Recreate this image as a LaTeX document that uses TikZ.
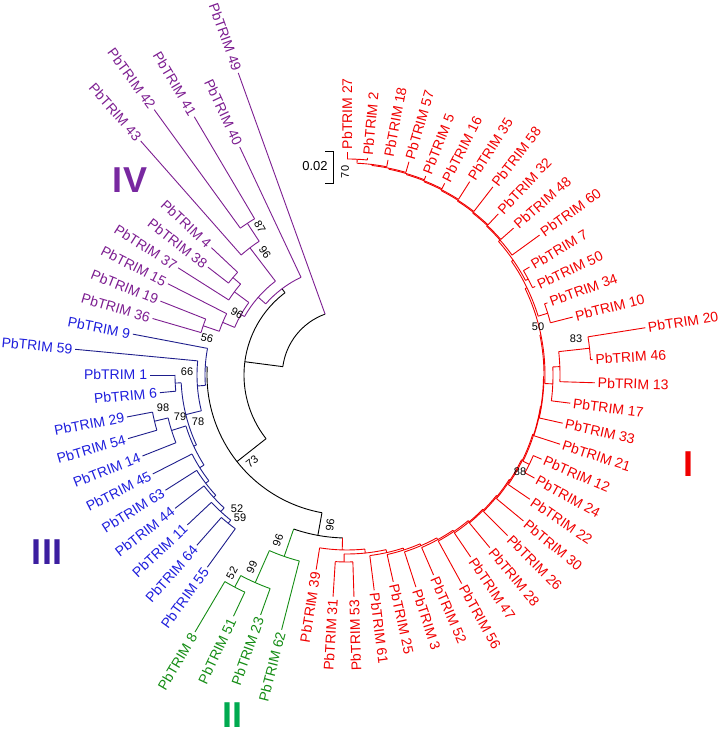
\documentclass[tikz,border=0pt]{standalone}
\usepackage{fontspec}
\setmainfont{Liberation Sans}
\definecolor{cI}{RGB}{240,0,0}
\definecolor{cII}{RGB}{20,140,20}
\definecolor{cIII}{RGB}{30,30,140}
\definecolor{tIII}{RGB}{30,30,220}
\definecolor{cIV}{RGB}{125,30,145}
\definecolor{kII}{RGB}{0,170,80}
\definecolor{kIII}{RGB}{60,30,160}
\definecolor{kIV}{RGB}{120,40,160}
\newcommand\tarc[4]{\draw[#1] (#3:#2pt) arc[start angle=#3,end angle=#4,radius=#2pt];}
\newcommand\trad[4]{\draw[#1] (#2:#3pt) -- (#2:#4pt);}
\newcommand\leafR[7]{\draw[#1] (#3:#4pt) -- (#3:#5pt) node[lab,text=#2,rotate=#3,anchor=west] (#6) {PbTRIM #7};}
\newcommand\leafL[7]{\draw[#1] (#3:#4pt) -- (#3:#5pt) node[lab,text=#2,rotate=#3-180,anchor=east] (#6) {PbTRIM #7};}
\begin{document}
\begin{tikzpicture}[x=1pt,y=1pt,line width=0.9pt,
  lab/.style={font=\fontsize{14pt}{14pt}\selectfont,inner sep=0pt,inner xsep=2.5pt},
  bs/.style={font=\fontsize{11pt}{11pt}\selectfont,inner sep=0pt,text=black},
  clade/.style={font=\fontsize{36pt}{36pt}\selectfont\bfseries,inner sep=0pt}]
\useasboundingbox (0,0) rectangle (721,741);
\begin{scope}[shift={(347,366)}]
% backbone
\tarc{black}{64.7}{109.8}{172.6}
\trad{black}{172.6}{64.7}{103}
\tarc{black}{103}{127.0}{218.2}
\trad{black}{127.0}{103}{108}
\trad{black}{218.2}{103}{140}
\tarc{black}{140}{176.7}{259.7}
\trad{black}{259.7}{140}{163}
\tarc{black}{163}{250.9}{268.43}
% clade IV
\leafL{cIV}{cIV}{109.8}{64.7}{321}{l49}{49}
\tarc{cIV}{108}{115.2}{138.8}
\leafL{cIV}{cIV}{115.2}{108}{252}{l40}{40}
\trad{cIV}{138.8}{108}{118}
\tarc{cIV}{118}{127.35}{150.3}
\trad{cIV}{127.35}{118}{160}
\tarc{cIV}{160}{123.3}{131.4}
\leafL{cIV}{cIV}{131.4}{160}{312}{l43}{43}
\trad{cIV}{123.3}{160}{181.5}
\tarc{cIV}{181.5}{120.6}{126}
\leafL{cIV}{cIV}{126}{181.5}{328}{l42}{42}
\leafL{cIV}{cIV}{120.6}{181.5}{300}{l41}{41}
\trad{cIV}{150.3}{118}{122}
\tarc{cIV}{122}{143.55}{157.05}
\trad{cIV}{143.55}{122}{140}
\tarc{cIV}{140}{139.5}{147.6}
\trad{cIV}{139.5}{140}{150}
\tarc{cIV}{150}{136.8}{142.2}
\leafL{cIV}{cIV}{136.8}{150}{186}{l4}{4}
\leafL{cIV}{cIV}{142.2}{150}{176}{l38}{38}
\leafL{cIV}{cIV}{147.6}{140}{200}{l37}{37}
\trad{cIV}{157.05}{122}{135}
\tarc{cIV}{135}{153}{161.1}
\leafL{cIV}{cIV}{153}{135}{201}{l15}{15}
\trad{cIV}{161.1}{135}{152}
\tarc{cIV}{152}{158.4}{163.8}
\leafL{cIV}{cIV}{158.4}{152}{200.7}{l19}{19}
\leafL{cIV}{cIV}{163.8}{152}{202.5}{l36}{36}
% clade III
\trad{cIII}{176.7}{140}{142}
\tarc{cIII}{142}{169.2}{184.2}
\leafL{cIII}{tIII}{169.2}{142}{218}{l9}{9}
\trad{cIII}{184.2}{142}{150}
\tarc{cIII}{150}{174.6}{193.8}
\leafL{cIII}{tIII}{174.6}{150}{273}{l59}{59}
\trad{cIII}{193.8}{150}{166}
\tarc{cIII}{166}{182.7}{204.9}
\trad{cIII}{182.7}{166}{172}
\tarc{cIII}{172}{180}{185.4}
\leafL{cIII}{tIII}{180}{172}{197}{l1}{1}
\leafL{cIII}{tIII}{185.4}{172}{188}{l6}{6}
\trad{cIII}{204.9}{166}{169}
\tarc{cIII}{169}{197.55}{212.2}
\trad{cIII}{197.55}{169}{184}
\tarc{cIII}{184}{193.5}{201.6}
\trad{cIII}{193.5}{184}{198}
\tarc{cIII}{198}{190.8}{196.2}
\leafL{cIII}{tIII}{190.8}{198}{224}{l29}{29}
\leafL{cIII}{tIII}{196.2}{198}{228}{l54}{54}
\leafL{cIII}{tIII}{201.6}{184}{220}{l14}{14}
\trad{cIII}{212.2}{169}{174}
\tarc{cIII}{174}{207}{217.45}
\leafL{cIII}{tIII}{207}{174}{218}{l45}{45}
\trad{cIII}{217.45}{174}{178}
\tarc{cIII}{178}{212.4}{222.5}
\leafL{cIII}{tIII}{212.4}{178}{215}{l63}{63}
\trad{cIII}{222.5}{178}{181}
\tarc{cIII}{181}{217.8}{227.25}
\leafL{cIII}{tIII}{217.8}{181}{217.6}{l44}{44}
\trad{cIII}{227.25}{181}{186}
\tarc{cIII}{186}{223.2}{231.3}
\leafL{cIII}{tIII}{223.2}{186}{219}{l11}{11}
\trad{cIII}{231.3}{186}{190}
\tarc{cIII}{190}{228.6}{234}
\leafL{cIII}{tIII}{228.6}{190}{227}{l64}{64}
\leafL{cIII}{tIII}{234}{190}{237.6}{l55}{55}
% clade II
\trad{cII}{250.9}{163}{192}
\tarc{cII}{192}{246.15}{255.6}
\leafL{cII}{cII}{255.6}{192}{263}{l62}{62}
\trad{cII}{246.15}{192}{227}
\tarc{cII}{227}{242.1}{250.2}
\leafL{cII}{cII}{250.2}{227}{255}{l23}{23}
\trad{cII}{242.1}{227}{240}
\tarc{cII}{240}{239.4}{244.8}
\leafL{cII}{cII}{239.4}{240}{298.6}{l8}{8}
\leafL{cII}{cII}{244.8}{240}{266.6}{l51}{51}
% clade I
\trad{cI}{-91.57}{163}{175}
\tarc{cI}{175}{-99}{-84.15}
\leafL{cI}{cI}{-99}{175}{197}{l39}{39}
\trad{cI}{-84.15}{175}{179}
\tarc{cI}{179}{-90.9}{-77.39}
\trad{cI}{-90.9}{179}{187}
\tarc{cI}{187}{-93.6}{-88.2}
\leafL{cI}{cI}{-93.6}{187}{222}{l31}{31}
\leafL{cI}{cI}{-88.2}{187}{222}{l53}{53}
\trad{cI}{-77.39}{179}{182}
\tarc{cI}{182}{-82.8}{-71.99}
\leafR{cI}{cI}{-82.8}{182}{217}{l61}{61}
\trad{cI}{-71.99}{182}{184}
\tarc{cI}{184}{-77.4}{-66.58}
\leafR{cI}{cI}{-77.4}{184}{212}{l25}{25}
\trad{cI}{-66.58}{184}{186}
\tarc{cI}{186}{-72}{-61.16}
\leafR{cI}{cI}{-72}{186}{223}{l3}{3}
\trad{cI}{-61.16}{186}{188}
\tarc{cI}{188}{-66.6}{-55.71}
\leafR{cI}{cI}{-66.6}{188}{218}{l52}{52}
\trad{cI}{-55.71}{188}{189.5}
\tarc{cI}{189.5}{-61.2}{-50.22}
\leafR{cI}{cI}{-61.2}{189.5}{238}{l56}{56}
\trad{cI}{-50.22}{189.5}{191}
\tarc{cI}{191}{-55.8}{-44.64}
\leafR{cI}{cI}{-55.8}{191}{220}{l47}{47}
\trad{cI}{-44.64}{191}{192}
\tarc{cI}{192}{-50.4}{-38.88}
\leafR{cI}{cI}{-50.4}{192}{224}{l28}{28}
\trad{cI}{-38.88}{192}{193}
\tarc{cI}{193}{-45}{-32.77}
\leafR{cI}{cI}{-45}{193}{227}{l26}{26}
\trad{cI}{-32.77}{193}{194}
\tarc{cI}{194}{-39.6}{-25.93}
\leafR{cI}{cI}{-39.6}{194}{229}{l30}{30}
\trad{cI}{-25.93}{194}{195}
\tarc{cI}{195}{-34.2}{-17.66}
\leafR{cI}{cI}{-34.2}{195}{221}{l22}{22}
\trad{cI}{-17.66}{195}{196}
\tarc{cI}{196}{-26.1}{-9.225}
\trad{cI}{-26.1}{196}{203}
\tarc{cI}{203}{-28.8}{-23.4}
\leafR{cI}{cI}{-28.8}{203}{214}{l24}{24}
\leafR{cI}{cI}{-23.4}{203}{212}{l12}{12}
\trad{cI}{-9.225}{196}{196.5}
\tarc{cI}{196.5}{-18}{-0.45}
\leafR{cI}{cI}{-18}{196.5}{224}{l21}{21}
\trad{cI}{-0.45}{196.5}{197}
\tarc{cI}{197}{-12.6}{11.70}
\leafR{cI}{cI}{-12.6}{197}{221}{l33}{33}
\trad{cI}{11.70}{197}{198}
\tarc{cI}{198}{-2.475}{25.87}
\trad{cI}{-2.475}{198}{206}
\tarc{cI}{206}{-7.2}{2.25}
\leafR{cI}{cI}{-7.2}{206}{225}{l17}{17}
\trad{cI}{2.25}{206}{213}
\tarc{cI}{213}{-1.8}{6.3}
\leafR{cI}{cI}{-1.8}{213}{248}{l13}{13}
\trad{cI}{6.3}{213}{244}
\tarc{cI}{244}{3.6}{9}
\leafR{cI}{cI}{3.6}{244}{246}{l46}{46}
\leafR{cI}{cI}{9}{244}{302}{l20}{20}
\trad{cI}{25.87}{198}{200}
\tarc{cI}{200}{17.1}{34.65}
\trad{cI}{17.1}{200}{210}
\tarc{cI}{210}{14.4}{19.8}
\leafR{cI}{cI}{14.4}{210}{233}{l10}{10}
\leafR{cI}{cI}{19.8}{210}{213}{l34}{34}
\trad{cI}{34.65}{200}{202}
\tarc{cI}{202}{27.9}{41.39}
\trad{cI}{27.9}{202}{205}
\tarc{cI}{205}{25.2}{30.6}
\leafR{cI}{cI}{25.2}{205}{208}{l50}{50}
\leafR{cI}{cI}{30.6}{205}{212}{l7}{7}
\trad{cI}{41.39}{202}{204}
\tarc{cI}{204}{36}{46.79}
\leafR{cI}{cI}{36}{204}{238}{l60}{60}
\trad{cI}{46.79}{204}{205}
\tarc{cI}{205}{41.4}{52.18}
\leafR{cI}{cI}{41.4}{205}{222}{l48}{48}
\trad{cI}{52.18}{205}{206}
\tarc{cI}{206}{46.8}{57.56}
\leafR{cI}{cI}{46.8}{206}{221}{l32}{32}
\trad{cI}{57.56}{206}{207}
\tarc{cI}{207}{52.2}{62.92}
\leafR{cI}{cI}{52.2}{207}{238}{l58}{58}
\trad{cI}{62.92}{207}{208}
\tarc{cI}{208}{57.6}{68.23}
\leafR{cI}{cI}{57.6}{208}{229}{l35}{35}
\trad{cI}{68.23}{208}{209}
\tarc{cI}{209}{63}{73.46}
\leafR{cI}{cI}{63}{209}{215}{l16}{16}
\trad{cI}{73.46}{209}{210}
\tarc{cI}{210}{68.4}{78.53}
\leafR{cI}{cI}{68.4}{210}{214}{l5}{5}
\trad{cI}{78.53}{210}{211}
\tarc{cI}{211}{73.8}{83.25}
\leafR{cI}{cI}{73.8}{211}{222}{l57}{57}
\trad{cI}{83.25}{211}{212}
\tarc{cI}{212}{79.2}{87.3}
\leafR{cI}{cI}{79.2}{212}{219}{l18}{18}
\trad{cI}{87.3}{212}{216}
\tarc{cI}{216}{84.6}{90}
\leafR{cI}{cI}{90}{216}{223}{l27}{27}
\leafR{cI}{cI}{84.6}{216}{218}{l2}{2}
\end{scope}
% bootstrap values
\node[bs,rotate=90] (b70) at (345,569) {70};
\node[bs] (b50) at (538,414) {50};
\node[bs] (b83) at (576,402) {83};
\node[bs] (b88) at (520,269) {88};
\node[bs,rotate=83] (b96a) at (330,216) {96};
\node[bs,rotate=70] (b96b) at (278,201) {96};
\node[bs,rotate=66] (b99) at (252,174) {99};
\node[bs,rotate=62] (b52a) at (232,168) {52};
\node[bs] (b52b) at (237,232) {52};
\node[bs] (b59) at (240,223) {59};
\node[bs,rotate=38] (b73) at (252,279) {73};
\node[bs] (b78) at (198,319) {78};
\node[bs] (b79) at (180,324) {79};
\node[bs] (b98) at (163,333) {98};
\node[bs] (b66) at (187,369) {66};
\node[bs,rotate=-15] (b56) at (207,403) {56};
\node[bs,rotate=-30] (b96c) at (237,428) {96};
\node[bs,rotate=-55] (b96d) at (265,489) {96};
\node[bs,rotate=-60] (b87) at (260,514) {87};
% scale bar
\coordinate (sb1) at (325,590);
\coordinate (sb2) at (333,590);
\coordinate (sb3) at (333,558);
\coordinate (sb4) at (325,558);
\draw[black] (sb1) -- (sb2) -- (sb3) -- (sb4);
\node[font=\fontsize{13pt}{13pt}\selectfont,inner sep=0pt] (sbl) at (315,575) {0.02};
% clade labels
\node[clade,text=cI] (kI) at (688,277) {I};
\node[clade,text=kII] (kII) at (232,26) {II};
\node[clade,text=kIII] (kIII) at (47,189) {III};
\node[clade,text=kIV] (kIV) at (130,561) {IV};
\end{tikzpicture}
\end{document}
